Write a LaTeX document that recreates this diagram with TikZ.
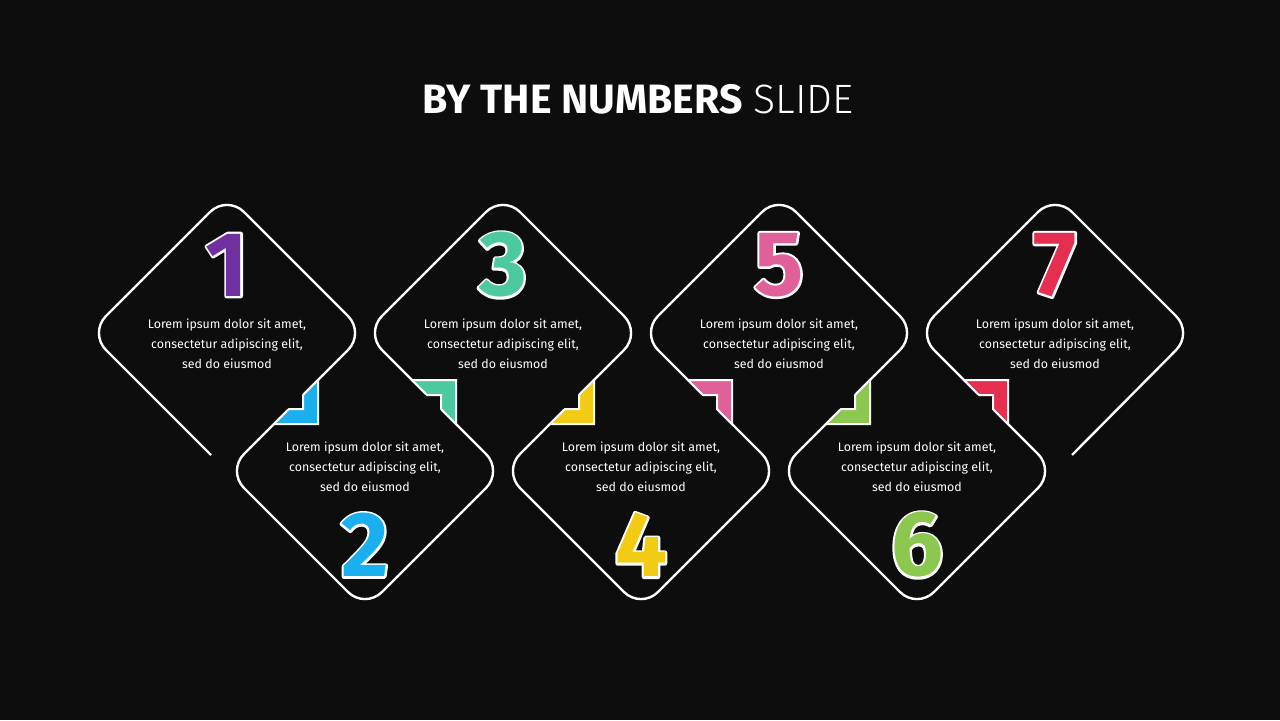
\documentclass[tikz,border=0pt]{standalone}
\usepackage{fontspec}
\setmainfont{Fira Sans}
\newfontfamily\lightfont{Fira Sans Light}
\usepackage{xcolor}
\usepackage{tikz}
\usetikzlibrary{positioning}
\definecolor{slideBg}{HTML}{0D0D0D}
\definecolor{numPurple}{HTML}{7030A0}
\definecolor{numBlue}{HTML}{1AB0F0}
\definecolor{numTeal}{HTML}{4DC9A0}
\definecolor{numYellow}{HTML}{F2CC14}
\definecolor{numPink}{HTML}{E0609A}
\definecolor{numLime}{HTML}{8CC850}
\definecolor{numRed}{HTML}{E62E50}
\newcommand{\loremtext}{Lorem ipsum dolor sit amet,\\consectetur adipiscing elit,\\sed do eiusmod}
% stroked glyphs for the white rim of the numbers
\newcommand{\rimtext}[1]{\special{pdf:literal direct 2 Tr 2.2 w 1 j}#1\special{pdf:literal direct 0 Tr}}
\tikzset{
title text/.style = { text = white, anchor = base, inner sep = 0pt, font = \fontsize{20.5}{22}\selectfont },
body text/.style = { text = white, align = center, inner sep = 0pt, font = \fontsize{6.2}{10}\selectfont },
number face/.style = { inner sep = 0pt, font = \fontsize{46}{46}\selectfont\bfseries },
outline/.style = { draw = white, line width = 1.2pt, rounded corners = 12pt, line join = round },
}
\tikzset{
pics/big number/.style args={#1, #2}{
        code = {
        \node[number face, text = white] (-rim) at (0.0, 0.0) {\rimtext{#1}};
        \node[number face, text = #2] (-digit) at (0.0, 0.0) {#1};
        }
    },
pics/chevron/.style = {
        code = {
        % wipe the edge line inside the notch
        \draw[slideBg, line width = 2.4pt] (-8, -8) -- (8, 8);
        \path[draw = white, fill = #1, line width = 1pt] (22, 22) -- (22, -22) -- (-22, -22) -- (-7, -7) -- (7, -7) -- (7, 7) -- cycle;
        }
    }
}
\begin{document}
\begin{tikzpicture}[x = 0.5pt, y = 0.5pt]
    \fill[slideBg] (0, 0) rectangle (1280, 720);
    \useasboundingbox (0, 0) rectangle (1280, 720);
    \node[title text] (title) at (638, 607) {{\bfseries BY THE NUMBERS} {\lightfont SLIDE}};
    \draw[outline] (211, 265) -- (89, 387) -- (227, 525) -- (365, 387)
        -- (227, 249) -- (365, 111) -- (503, 249)
        -- (365, 387) -- (503, 525) -- (641, 387)
        -- (503, 249) -- (641, 111) -- (779, 249)
        -- (641, 387) -- (779, 525) -- (917, 387)
        -- (779, 249) -- (917, 111) -- (1055, 249)
        -- (917, 387) -- (1055, 525) -- (1193, 387) -- (1072, 265);
    \draw (296, 318) pic{chevron = numBlue};
    \draw (434, 318) pic[rotate = 90]{chevron = numTeal};
    \draw (572, 318) pic{chevron = numYellow};
    \draw (710, 318) pic[rotate = 90]{chevron = numPink};
    \draw (848, 318) pic{chevron = numLime};
    \draw (986, 318) pic[rotate = 90]{chevron = numRed};
    \draw (227, 455) pic (num1) {big number = {1, numPurple}};
    \draw (365, 175) pic (num2) {big number = {2, numBlue}};
    \draw (503, 455) pic (num3) {big number = {3, numTeal}};
    \draw (641, 175) pic (num4) {big number = {4, numYellow}};
    \draw (779, 455) pic (num5) {big number = {5, numPink}};
    \draw (917, 175) pic (num6) {big number = {6, numLime}};
    \draw (1055, 455) pic (num7) {big number = {7, numRed}};
    \node[body text] (text1) at (227, 376) {\loremtext};
    \node[body text] (text2) at (365, 253) {\loremtext};
    \node[body text] (text3) at (503, 376) {\loremtext};
    \node[body text] (text4) at (641, 253) {\loremtext};
    \node[body text] (text5) at (779, 376) {\loremtext};
    \node[body text] (text6) at (917, 253) {\loremtext};
    \node[body text] (text7) at (1055, 376) {\loremtext};
\end{tikzpicture}
\end{document}
